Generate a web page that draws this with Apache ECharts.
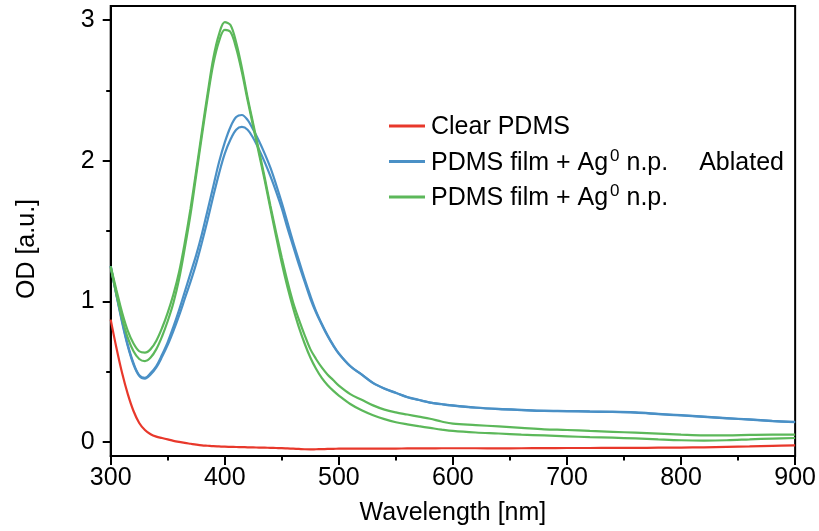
<!DOCTYPE html>
<html>
<head>
<meta charset="utf-8">
<script src="https://cdn.jsdelivr.net/npm/echarts@6/dist/echarts.min.js"></script>
<style>
html,body{margin:0;padding:0;background:#fff;}
#chart{width:819px;height:531px;}
</style>
</head>
<body>
<div id="chart"></div>
<script>
// Wavelength samples [nm]
var wavelengths = [300,305,310,315,320,325,330,335,340,345,350,355,360,365,370,375,380,385,390,395,400,405,410,415,420,425,430,435,440,445,450,455,460,465,470,475,480,485,490,495,500,510,520,530,540,550,560,570,580,590,600,620,640,660,680,700,720,740,760,780,800,820,840,860,880,900];

// Clear PDMS
var clearPDMS = [0.87,0.67,0.49,0.34,0.22,0.135,0.085,0.055,0.038,0.028,0.018,0.008,0.0,-0.007,-0.013,-0.019,-0.024,-0.027,-0.03,-0.032,-0.034,-0.035,-0.036,-0.037,-0.038,-0.039,-0.04,-0.041,-0.042,-0.043,-0.044,-0.046,-0.048,-0.05,-0.052,-0.053,-0.052,-0.051,-0.05,-0.049,-0.048,-0.047,-0.047,-0.047,-0.047,-0.047,-0.046,-0.046,-0.046,-0.045,-0.045,-0.045,-0.046,-0.045,-0.044,-0.043,-0.043,-0.042,-0.042,-0.041,-0.04,-0.038,-0.035,-0.032,-0.028,-0.024];

// PDMS film + Ag0 n.p. Ablated (two measurements)
var ablatedA = [1.25,1.05,0.86,0.69,0.56,0.475,0.455,0.49,0.54,0.62,0.71,0.82,0.94,1.07,1.20,1.33,1.48,1.65,1.82,1.99,2.13,2.24,2.31,2.325,2.29,2.22,2.14,2.05,1.95,1.83,1.70,1.56,1.42,1.29,1.16,1.04,0.93,0.84,0.76,0.69,0.63,0.54,0.48,0.42,0.38,0.35,0.32,0.30,0.28,0.27,0.26,0.245,0.235,0.228,0.222,0.22,0.217,0.215,0.21,0.20,0.19,0.18,0.17,0.16,0.15,0.142];
var ablatedB = [1.25,1.045,0.85,0.68,0.55,0.47,0.45,0.48,0.53,0.605,0.69,0.79,0.90,1.02,1.14,1.27,1.42,1.58,1.75,1.91,2.05,2.15,2.22,2.24,2.22,2.16,2.08,1.99,1.89,1.78,1.66,1.52,1.39,1.26,1.14,1.02,0.92,0.835,0.755,0.686,0.627,0.538,0.478,0.418,0.378,0.348,0.318,0.298,0.279,0.268,0.258,0.243,0.233,0.226,0.22,0.218,0.215,0.213,0.208,0.198,0.188,0.178,0.168,0.158,0.148,0.14];

// PDMS film + Ag0 n.p. (two measurements)
var filmA = [1.25,1.08,0.92,0.79,0.70,0.645,0.635,0.66,0.72,0.81,0.92,1.05,1.21,1.42,1.66,1.93,2.21,2.48,2.73,2.90,2.985,2.965,2.84,2.66,2.45,2.26,2.07,1.88,1.68,1.49,1.31,1.14,0.99,0.87,0.76,0.66,0.59,0.53,0.48,0.44,0.40,0.34,0.30,0.26,0.23,0.21,0.195,0.18,0.165,0.145,0.13,0.12,0.11,0.10,0.09,0.085,0.078,0.072,0.066,0.059,0.052,0.047,0.047,0.05,0.052,0.052];
var filmB = [1.24,1.05,0.88,0.74,0.645,0.59,0.575,0.60,0.66,0.75,0.86,0.99,1.16,1.38,1.62,1.90,2.18,2.45,2.69,2.85,2.93,2.915,2.80,2.63,2.43,2.24,2.05,1.86,1.66,1.46,1.27,1.10,0.95,0.815,0.70,0.60,0.52,0.455,0.405,0.365,0.33,0.27,0.225,0.19,0.162,0.14,0.125,0.112,0.10,0.088,0.078,0.067,0.06,0.052,0.046,0.04,0.034,0.03,0.025,0.018,0.012,0.01,0.012,0.018,0.024,0.028];

var seriesNames = ['Clear PDMS', 'PDMS film + Ag0 n.p. Ablated', 'PDMS film + Ag0 n.p.'];
var xTicks = [300,400,500,600,700,800,900];
var yMajorTicks = [0,1,2,3];
var yMinorTicks = [0.5,1.5,2.5];

var RED = '#e8382b', BLUE = '#4a90c6', GREEN = '#5cb85a';
var FONT = '"Liberation Sans", Arial, Helvetica, sans-serif';
var FS = 25;

function pairs(ys){ return wavelengths.map(function(x,i){ return [x, ys[i]]; }); }
function line(name, ys, color){
  return { name: name, type: 'line', data: pairs(ys), smooth: 0.35, showSymbol: false, symbol: 'none',
    lineStyle: { color: color, width: 2.2 }, itemStyle: { color: color }, animation: false };
}

function legendLabel(n){
  var parts = n.split('Ag0');
  if (parts.length === 1) return '{f|' + n + '}';
  var rest = parts[1];
  var s = '{f|' + parts[0] + 'Ag}{sup|0}';
  var k = rest.indexOf(' Ablated');
  if (k >= 0) {
    s += '{n|' + rest.slice(0, k) + ' }{ab|' + rest.slice(k + 1) + '}';
  } else {
    s += '{n|' + rest + '}';
  }
  return s;
}

var chart = echarts.init(document.getElementById('chart'), null, {renderer: 'canvas'});
chart.setOption({
  animation: false,
  backgroundColor: '#fff',
  grid: { left: 110.7, right: 21, top: 6, bottom: 73.5, show: true, borderColor: '#000', borderWidth: 2, backgroundColor: 'transparent' },
  legend: {
    orient: 'vertical', left: 384, top: 110, itemWidth: 36, itemHeight: 3, itemGap: 7.5, icon: 'rect',
    data: seriesNames,
    formatter: legendLabel,
    textStyle: {
      color: '#000', fontFamily: FONT, fontSize: FS,
      rich: {
        f: { fontSize: FS, fontFamily: FONT, color: '#000', lineHeight: 28, verticalAlign: 'bottom', padding: [0,0,0,1] },
        n: { fontSize: FS, fontFamily: FONT, color: '#000', lineHeight: 28, verticalAlign: 'bottom' },
        ab: { fontSize: FS, fontFamily: FONT, color: '#000', lineHeight: 28, verticalAlign: 'bottom', padding: [0,0,0,24] },
        sup: { fontSize: 17, fontFamily: FONT, color: '#000', lineHeight: 17, verticalAlign: 'bottom', padding: [0,0,11,2] }
      }
    }
  },
  xAxis: {
    type: 'value', min: 300, max: 900, interval: 100,
    name: 'Wavelength [nm]', nameLocation: 'middle', nameGap: 45,
    nameTextStyle: { color: '#000', fontFamily: FONT, fontSize: FS },
    axisLine: { show: true, onZero: false, lineStyle: { color: '#000', width: 2 } },
    axisTick: { show: true, inside: false, length: 9, lineStyle: { color: '#000', width: 2 } },
    minorTick: { show: true, splitNumber: 2, length: 4.5, lineStyle: { color: '#000', width: 2 } },
    axisLabel: { color: '#000', fontFamily: FONT, fontSize: FS, margin: 10 },
    splitLine: { show: false }
  },
  yAxis: [{
    type: 'value', min: -0.1, max: 3.1,
    name: 'OD [a.u.]', nameLocation: 'middle', nameGap: 71, nameRotate: 90,
    nameTextStyle: { color: '#000', fontFamily: FONT, fontSize: FS, padding: [0, 36, 0, 0] },
    axisLine: { show: true, onZero: false, lineStyle: { color: '#000', width: 2 } },
    axisTick: { show: true, inside: false, length: 8, customValues: yMajorTicks, lineStyle: { color: '#000', width: 2 } },
    axisLabel: { color: '#000', fontFamily: FONT, fontSize: FS, margin: 16, customValues: yMajorTicks },
    splitLine: { show: false }
  }, {
    type: 'value', min: -0.1, max: 3.1, position: 'left', offset: 0,
    axisLine: { show: false, onZero: false },
    axisTick: { show: true, inside: false, length: 4.5, customValues: yMinorTicks, lineStyle: { color: '#000', width: 2 } },
    axisLabel: { show: false },
    splitLine: { show: false }
  }],
  series: [
    line(seriesNames[0], clearPDMS, RED),
    line(seriesNames[1], ablatedA, BLUE),
    line(seriesNames[1], ablatedB, BLUE),
    line(seriesNames[2], filmA, GREEN),
    line(seriesNames[2], filmB, GREEN)
  ]
});
</script>
</body>
</html>
